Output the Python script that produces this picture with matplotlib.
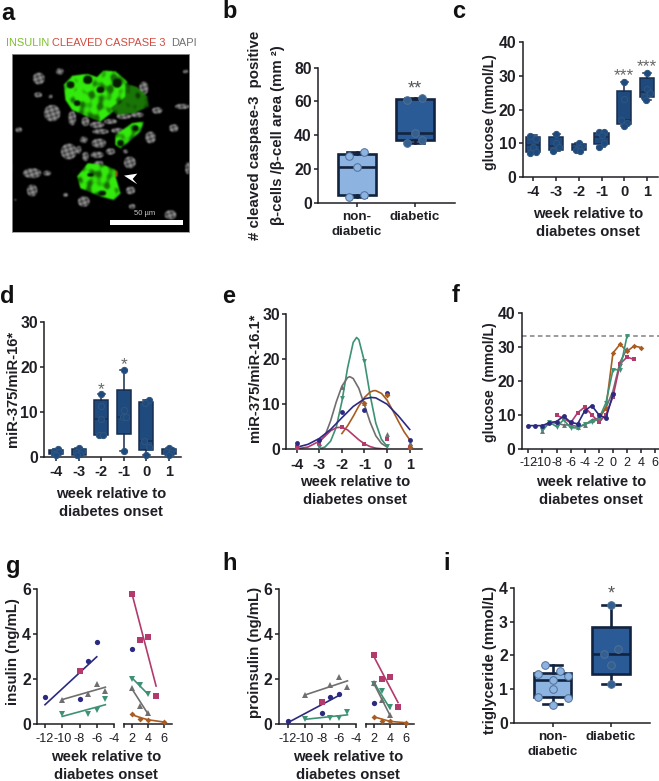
import matplotlib
matplotlib.use('Agg')
import matplotlib.pyplot as plt
from matplotlib.path import Path
from matplotlib.patches import Polygon, Rectangle
import numpy as np

plt.rcParams['font.family'] = ['Liberation Sans', 'DejaVu Sans']
plt.rcParams['font.weight'] = 'bold'

W, H = 659, 781

# colours
BLUE, PINK, GREEN, GRAY, BROWN = '#2b2a80', '#b23a6c', '#3d9274', '#6f6f6f', '#a85c22'
DARK = '#1e1e24'
LIGHT_FILL, LIGHT_PT = '#8db3e0', '#8db3e0'
MID_FILL, MID_PT = '#2b5b96', '#34608f'
DEEP_FILL, DEEP_EDGE = '#1f4a7e', '#182c4e'

weeks = [-4, -3, -2, -1, 0, 1]
status = ['non-\ndiabetic', 'diabetic']

# panel b
b_q1, b_med, b_q3 = [4.5, 37], [21, 41.5], [29, 61.5]
b_lo, b_hi = [3.5, 35.5], [30, 62]
b_pts = [[30, 28, 21, 4.5, 3.5], [62, 61, 41.5, 37, 35.5]]
b_jit = [[.2, -.2, 0, .2, -.2], [.2, -.2, 0, .2, -.2]]

# panel c
c_q1 = [7.5, 8, 7.9, 9.7, 15.8, 23.8]
c_med = [9.5, 9.3, 8.5, 11.8, 17, 25.2]
c_q3 = [12, 12, 9.7, 13, 25.5, 29.5]
c_lo = [7, 7.6, 7.7, 9, 15.2, 23]
c_hi = [12.5, 12.7, 10.2, 13.4, 28.3, 31]
c_pts = [[12.3, 11.3, 9, 7.5, 7], [12.7, 10, 9, 8, 7.6], [10.2, 9.3, 8.6, 8, 7.7],
         [13.4, 13.3, 12.5, 10, 9], [28.3, 23.2, 17, 16, 15.2], [31, 26, 25, 23.8, 23]]
c_jit = [[-.2, .2, 0, .2, -.2], [0, 0, .2, -.2, -.2], [0, .2, 0, -.2, .1],
         [-.2, .2, 0, .2, -.2], [0, 0, -.2, .2, 0], [0, 0, .2, -.2, -.1]]
c_stars = ['', '', '', '', '***', '***']

# panel d
d_q1 = [.6, .5, 4.9, 5.2, 1.5, .6]
d_med = [1, 1.1, 8.4, 8.9, 3.6, 1.2]
d_q3 = [1.5, 1.7, 12.6, 14.9, 12.2, 1.8]
d_lo = [.4, .4, 4.7, 1.3, .5, .5]
d_hi = [1.7, 2, 14, 19.4, 12.6, 2.1]
d_pts = [[1.7, 1.3, 1, .6, .4], [2, 1.3, 1.1, .6, .4], [14, 11.2, 8.4, 4.8, 4.8],
         [19.4, 10.4, 8.9, 8.9, 1.3], [12.6, 12, 3.6, 2.2, .5], [2.1, 1.5, 1.2, .8, .5]]
d_jit = [[.1, -.2, .2, -.2, 0], [0, .2, -.2, .1, -.1], [0, 0, 0, -.2, .15],
         [0, 0, -.1, .15, 0], [.15, -.1, -.15, .15, 0], [0, .2, -.2, .15, 0]]
d_stars = ['', '', '*', '*', '', '']

# panel e, markers
e_x = [-4, -3, -2, -1, 0, 1]
e_blue = [1.5, 2, 8.3, 8.8, 12.5, 2.1]
e_pink = [.5, 1.3, 4.9, 1.2, 2.2, .3]
e_gray = [.6, 1.5, 13.8, 10.2, 3.3, 1.4]
e_green = [.2, .6, 11.3, 19.5, .7, .4]
e_brown_x = [-1, 0, 1]
e_brown = [10.3, 12, .4]

# panel e, fitted curves
e_blue_cx = [-4, -3.5, -3, -2.5, -2, -1.5, -1, -.7, -.5, 0, .5, 1]
e_blue_cy = [.45, 1.1, 2.4, 4.4, 7, 9.5, 11.2, 11.5, 11.4, 10, 7.4, 4.4]
e_pink_cx = [-4, -3.5, -3, -2.75, -2.5, -2.25, -2, -1.75, -1.5, -1.25, -1, -.75, -.5, 0]
e_pink_cy = [.1, .5, 1.8, 2.9, 4.1, 4.8, 4.9, 4.3, 3.2, 2.1, 1.2, .6, .25, 0]
e_gray_cx = [-3, -2.75, -2.5, -2.25, -2, -1.75, -1.65, -1.5, -1.25, -1, -.75, -.5, -.25, 0]
e_gray_cy = [1.6, 3, 6.3, 10.5, 14, 15.9, 16.1, 15.7, 13.5, 9.8, 6, 3, 1.3, .5]
e_green_cx = [-3, -2.75, -2.5, -2.25, -2, -1.75, -1.5, -1.35, -1.25, -1, -.75, -.5, -.25, 0]
e_green_cy = [.1, .5, 1.8, 4.9, 10.6, 18, 23.7, 24.8, 24.3, 19.4, 12, 5.8, 2.2, .65]
e_brown_cx = [-2, -1.75, -1.5, -1.25, -1, -.75, -.6, -.5, -.25, 0, .25, .5, .75, 1]
e_brown_cy = [3.5, 5.2, 7.3, 9.6, 11.5, 12.7, 13, 13, 12.4, 10.9, 8.6, 6.2, 3.9, 2.1]

# panel f
f_blue_x = [-12, -11, -10, -9, -8, -7, -6, -5, -4, -3, -2, -1, 0]
f_blue_y = [6.8, 6.8, 6.8, 7.7, 8, 9.6, 7.8, 7.3, 11.2, 12.7, 10, 9, 16]
f_pink_x = [-8, -7, -6, -5, -4, -3, -2, -1, 0, 1, 2, 3]
f_pink_y = [9.8, 9, 7.6, 10.6, 12.3, 10, 7.8, 10, 15.3, 25, 27, 26.3]
f_green_x = [-10, -9, -8, -7, -6, -5, -4, -3, -2, -1, 0, 1, 2]
f_green_y = [5.5, 7.8, 6.5, 8.5, 6.2, 6.1, 7.3, 7.8, 8.8, 13.5, 23.3, 23.3, 33.3]
f_gray_x = [-10, -9, -8, -7, -6, -5, -4, -3, -2, -1, 0, 1, 2]
f_gray_y = [5.3, 7.8, 7.5, 7, 7, 6.5, 7, 8.5, 9, 12, 17, 25.5, 29.5]
f_brown_x = [-2, -1, 0, 1, 2, 3, 4]
f_brown_y = [9, 12, 28.2, 30.8, 28.7, 30.3, 29.8]
f_limit = 33.3

# panel g, before and after onset
g_blue_x, g_blue_y = [-12, -8, -7, -6], [1.2, 1.13, 2.82, 3.65]
g_pink_x, g_pink_y = [-8], [2.37]
g_gray_x, g_gray_y = [-10, -7, -6, -5], [1.07, 1.35, 1.78, 1.48]
g_green_x, g_green_y = [-10, -7, -6, -5], [.45, .47, .65, 1.13]
g_fit_before = {BLUE: ([-12, -6], [.87, 3.0]), GRAY: ([-10, -5], [1.1, 1.65]), GREEN: ([-10, -5], [.35, .87])}
g2_pink_x, g2_pink_y = [2, 3, 4, 5], [5.78, 3.73, 3.9, 1.28]
g2_blue_x, g2_blue_y = [2], [3.35]
g2_green_x, g2_green_y = [2, 3, 4], [2.03, 1.75, 1.35]
g2_gray_x, g2_gray_y = [2, 3, 4], [1.6, .8, .5]
g2_brown_x, g2_brown_y = [2, 3, 4, 6], [.45, .22, .2, .12]
g_fit_after = {PINK: ([2, 5], [5.75, 1.7]), GREEN: ([2, 4], [2.05, 1.33]), GRAY: ([2, 4], [1.55, .45]),
               BROWN: ([2, 3, 4, 6], [.42, .3, .2, .1])}

# panel h
h_blue_x, h_blue_y = [-12, -8, -7, -6], [.15, .5, 1.22, 1.35]
h_pink_x, h_pink_y = [-8], [.97]
h_gray_x, h_gray_y = [-10, -7, -6, -5], [1.32, 1.75, 2.1, 1.68]
h_green_x, h_green_y = [-10, -7, -6, -5], [.25, .27, .3, .55]
h_fit_before = {BLUE: ([-12, -6], [.07, 1.28]), GRAY: ([-10, -5], [1.3, 1.93]), GREEN: ([-10, -5], [.22, .42])}
h2_pink_x, h2_pink_y = [2, 3, 4, 5], [3.1, 2, 2.12, .77]
h2_blue_x, h2_blue_y = [2], [.93]
h2_green_x, h2_green_y = [2, 3, 4], [1.8, 1.5, .75]
h2_gray_x, h2_gray_y = [2, 3, 4], [1.85, 1.1, .4]
h2_brown_x, h2_brown_y = [2, 3, 4, 6], [.33, .15, .13, .07]
h_fit_after = {PINK: ([2, 5], [3.0, .97]), GREEN: ([2, 4], [1.85, .7]), GRAY: ([2, 4], [1.8, .4]),
               BROWN: ([2, 4, 6], [.33, .13, .07])}

# panel i
i_q1, i_med, i_q3 = [.78, 1.45], [1.28, 2.03], [1.48, 2.85]
i_lo, i_hi = [.55, 1.14], [1.72, 3.5]
i_pts = [[1.71, 1.54, 1.45, 1.4, 1.27, 1.0, .78, .74, .54], [3.5, 2.2, 2.03, 1.72, 1.14]]
i_jit = [[-.2, .2, -.4, .4, 0, 0, -.4, .4, 0], [0, .2, -.2, 0, 0]]

# panel a, microscope picture in 3x pixel coordinates of the crop
nuclei = [(115, 236, 18, 18), (178, 215, 12, 10), (113, 285, 12, 8), (155, 340, 25, 25), (55, 390, 10, 8),
          (205, 455, 24, 24), (150, 290, 6, 6), (215, 355, 12, 22), (255, 365, 12, 14), (290, 375, 22, 10),
          (330, 365, 20, 8), (370, 350, 22, 8), (410, 345, 20, 8), (300, 395, 25, 8), (350, 392, 18, 8),
          (295, 430, 22, 14), (250, 420, 12, 10), (255, 470, 10, 14), (290, 465, 20, 10), (330, 455, 14, 10),
          (295, 490, 14, 7), (388, 488, 18, 18), (375, 455, 8, 6), (95, 520, 28, 15), (140, 520, 12, 8),
          (95, 572, 16, 18), (250, 605, 18, 16), (195, 585, 8, 6), (390, 572, 14, 12), (562, 505, 8, 18),
          (450, 413, 16, 18), (520, 385, 14, 12), (470, 332, 16, 10), (430, 265, 14, 20), (545, 320, 22, 8),
          (510, 645, 18, 14), (45, 600, 4, 3), (235, 450, 8, 12), (555, 215, 8, 6), (395, 620, 10, 8)]
islet_top = [(190, 255), (215, 228), (260, 222), (290, 232), (310, 212), (345, 215), (380, 245), (385, 290),
             (345, 330), (300, 365), (260, 350), (215, 330), (195, 300)]
islet_side = [(375, 250), (410, 262), (440, 290), (445, 320), (400, 340), (350, 345), (330, 325), (375, 290)]
islet_mid = [(345, 405), (395, 370), (430, 365), (420, 395), (380, 430), (360, 445), (345, 435)]
islet_low = [(262, 490), (310, 495), (345, 510), (345, 530), (360, 580), (340, 600), (300, 590), (240, 565), (230, 530)]
holes = [(262, 240, 14, 13), (210, 255, 12, 11), (350, 250, 14, 14), (300, 270, 12, 10), (230, 310, 10, 9),
         (360, 430, 10, 10), (405, 385, 9, 9), (305, 580, 12, 8), (270, 525, 10, 6)]
red_spot = (348, 522, 4, 10)


def to_fig(left, right, top, bottom):
    return [left / W, 1 - bottom / H, (right - left) / W, (bottom - top) / H]


def panel(left, right, top, bottom, ymax, yticks, xref, ticks, labels, weight='bold', tick_fs=10.5, pad=3):
    # xref = (value, pixel, value, pixel) pins the x scale to the picture
    v0, p0, v1, p1 = xref
    ax = fig.add_axes(to_fig(left, right, top, bottom))
    unit = (p1 - p0) / (v1 - v0)
    ax.set_xlim(v0 - (p0 - left) / unit, v0 + (right - p0) / unit)
    ax.set_ylim(0, ymax)
    ax.set_yticks(yticks)
    ax.set_xticks(ticks)
    ax.set_xticklabels(labels, fontweight=weight, fontsize=tick_fs, color=DARK, linespacing=1.32)
    ax.tick_params(axis='y', length=3, width=1.1, pad=1.5, labelsize=11.3, colors=DARK)
    ax.tick_params(axis='x', length=3, width=1.1, pad=pad, colors=DARK)
    for s in ['top', 'right']:
        ax.spines[s].set_visible(False)
    for s in ['left', 'bottom']:
        ax.spines[s].set_linewidth(1.1)
        ax.spines[s].set_color(DARK)
    ax.patch.set_alpha(0)
    return ax


def ylab(ax, s, px, py, fs=10.6):
    ax.set_ylabel(s, fontsize=fs, fontweight='bold', va='center', color=DARK)
    ax.yaxis.set_label_coords(px / W, 1 - py / H, transform=fig.transFigure)


def week_label(px, py):
    fig.text(px / W, 1 - py / H, 'week relative to\ndiabetes onset', ha='center', va='center',
             fontsize=10.7, linespacing=1.32, color=DARK)


def boxes(ax, pos, q1, med, q3, lo, hi, pts, jit, fill, edge, ptcol, ptedge, width, lw=1.4, ms=5, cap=.5):
    stats = [dict(q1=a, med=m, q3=c, whislo=l, whishi=h, fliers=[]) for a, m, c, l, h in zip(q1, med, q3, lo, hi)]
    for i, st in enumerate(stats):
        ax.bxp([st], positions=[pos[i]], widths=width, patch_artist=True, showfliers=False,
               boxprops=dict(facecolor=fill[i], edgecolor=edge, linewidth=lw),
               medianprops=dict(color=edge, linewidth=lw), whiskerprops=dict(color=edge, linewidth=lw),
               capprops=dict(color=edge, linewidth=lw), capwidths=width * cap, manage_ticks=False, zorder=2)
        ax.plot(np.array(jit[i]) * width + pos[i], pts[i], 'o', ms=ms, mfc=ptcol[i], mec=ptedge, mew=.7,
                zorder=3, clip_on=False)


def scatter_lines(ax, series, fits, ms=3.8):
    for x, y, col, mk in series:
        ax.plot(x, y, mk, color=col, ms=ms - .8 if mk == 'D' else ms, mew=0, clip_on=False, zorder=3)
    for col, (x, y) in fits.items():
        ax.plot(x, y, color=col, lw=1.2, zorder=2)


def microscope():
    n = 534  # 3x crop from x=35 to 569, y=163 to 697
    yy, xx = np.mgrid[0:n, 0:n]
    xx = xx + 35
    yy = yy + 163
    grain = np.sin(xx / 3.7 + yy / 6.1) * np.cos(yy / 3.3 - xx / 8.3)
    gray = np.zeros((n, n))
    for x, y, rx, ry in nuclei:
        d = ((xx - x) / rx) ** 2 + ((yy - y) / ry) ** 2
        gray[d < 1] = .42 + .22 * grain[d < 1]
    green = np.zeros((n, n))
    pix = np.column_stack([xx.ravel(), yy.ravel()])
    wave = (np.sin(.13 * xx + .07 * yy) + np.sin(.05 * xx - .19 * yy + 1) +
            np.sin(.23 * xx + .03 * yy + 2) + np.sin(-.09 * xx + .11 * yy + 4) + np.sin(.031 * xx + .027 * yy))
    mottle = np.clip(1.0 + .2 * wave, .45, 1)
    for poly, level in [(islet_top, 1), (islet_mid, 1), (islet_low, 1), (islet_side, .5)]:
        mask = Path(poly).contains_points(pix).reshape(n, n)
        green[mask] = level * mottle[mask]
    for x, y, rx, ry in holes:
        d = ((xx - x) / rx) ** 2 + ((yy - y) / ry) ** 2
        green[d < 1] = .12
    rgb = np.zeros((n, n, 3))
    rgb[..., 0] = gray * (green < .05) + green * .2
    rgb[..., 1] = np.maximum(gray, green * .92)
    rgb[..., 2] = gray * (green < .05) + green * .05
    x, y, rx, ry = red_spot
    d = ((xx - x) / rx) ** 2 + ((yy - y) / ry) ** 2
    rgb[d < 1] = (.62, .32, .1)
    # soften, the source picture is blurry
    for _ in range(3):
        rgb = (rgb + np.roll(rgb, 2, 0) + np.roll(rgb, -2, 0) + np.roll(rgb, 2, 1) + np.roll(rgb, -2, 1)) / 5
    return np.clip(rgb, 0, 1)


fig = plt.figure(figsize=(W / 100, H / 100), dpi=100)

# a
ax_a = fig.add_axes(to_fig(12, 189.5, 54.3, 232.3))
ax_a.imshow(microscope(), extent=(35, 569, 697, 163), interpolation='bilinear', aspect='auto')
ax_a.add_patch(Rectangle((330, 660), 220, 15, fc='white', ec='none'))
ax_a.add_patch(Polygon([(372, 527), (412, 521), (398, 537), (412, 553)], fc='white', ec='none'))
ax_a.text(435, 642, '50 µm', color='#c8c8c8', fontsize=5.5, fontweight='normal', ha='center', va='center')
ax_a.set_xticks([])
ax_a.set_yticks([])
for s in ax_a.spines.values():
    s.set_color('#999999')
    s.set_linewidth(.6)
for s, x, c in [('INSULIN', 6, '#7fbf2a'), ('CLEAVED CASPASE 3', 52.5, '#d24a40'), ('DAPI', 171, '#707070')]:
    fig.text(x / W, 1 - 43.5 / H, s, color=c, fontsize=7.9, fontweight='normal', va='center')

# b
ax_b = panel(318, 455, 67.5, 203, 80, [0, 20, 40, 60, 80], (0, 356.7, 1, 414.7), [0, 1], status, tick_fs=9.6, pad=3)
boxes(ax_b, [0, 1], b_q1, b_med, b_q3, b_lo, b_hi, b_pts, b_jit, [LIGHT_FILL, MID_FILL], '#12233f',
      [LIGHT_PT, MID_PT], '#4f7099', .65, lw=1.9, ms=5.5)
ax_b.text(1, 67.3, '**', color='#555555', fontsize=13, fontweight='normal', ha='center', va='center')
ylab(ax_b, '# cleaved caspase-3  positive', 255, 135, fs=10.8)
fig.text(278 / W, 1 - 135 / H, 'β-cells /β-cell area (mm ²)', rotation=90, fontsize=10.8, color=DARK,
         ha='center', va='center')

# c
ax_c = panel(522.7, 658, 42.3, 177, 40, [0, 10, 20, 30, 40], (-4, 533.3, 1, 647), weeks, [str(w) for w in weeks])
boxes(ax_c, weeks, c_q1, c_med, c_q3, c_lo, c_hi, c_pts, c_jit, [DEEP_FILL] * 6, DEEP_EDGE, [DEEP_FILL] * 6,
      '#2f5680', .62, lw=1.1, ms=4.5)
for w, st, top in zip(weeks, c_stars, c_hi):
    if st:
        ax_c.text(w, top + 1.7, st, color='#666666', fontsize=12.5, fontweight='normal', ha='center', va='center')
ylab(ax_c, 'glucose (mmol/L)', 490, 112, fs=10.1)
week_label(588, 223)

# d
ax_d = panel(44, 181, 321.7, 457, 30, [0, 10, 20, 30], (-4, 56.3, 1, 169), weeks, [str(w) for w in weeks])
boxes(ax_d, weeks, d_q1, d_med, d_q3, d_lo, d_hi, d_pts, d_jit, [DEEP_FILL] * 6, DEEP_EDGE, [DEEP_FILL] * 6,
      '#2f5680', .62, lw=1.1, ms=4.5)
for w, st, top in zip(weeks, d_stars, d_hi):
    if st:
        ax_d.text(w, top + 1.0, st, color='#666666', fontsize=12.5, fontweight='normal', ha='center', va='center')
ylab(ax_d, 'miR-375/miR-16*', 13, 389)
week_label(111, 503)

# e
ax_e = panel(286, 421.7, 314, 449.3, 30, [0, 10, 20, 30], (-4, 296.7, 1, 409.7), weeks, [str(w) for w in weeks])
for y, col, mk in [(e_green, GREEN, 'v'), (e_gray, GRAY, '^'), (e_pink, PINK, 's'), (e_blue, BLUE, 'o')]:
    ax_e.plot(e_x, y, mk, color=col, ms=3.5, mew=0, zorder=3, clip_on=False)
ax_e.plot(e_brown_x, e_brown, 'D', color=BROWN, ms=3, mew=0, zorder=3)
ax_e.plot(e_green_cx, e_green_cy, color=GREEN, lw=1.2)
ax_e.plot(e_gray_cx, e_gray_cy, color=GRAY, lw=1.2)
ax_e.plot(e_brown_cx, e_brown_cy, color=BROWN, lw=1.2)
ax_e.plot(e_pink_cx, e_pink_cy, color=PINK, lw=1.2)
ax_e.plot(e_blue_cx, e_blue_cy, color=BLUE, lw=1.2)
ylab(ax_e, 'miR-375/miR-16.1*', 255, 378)
week_label(355, 491)

# f
f_ticks = [-12, -10, -8, -6, -4, -2, 0, 2, 4, 6]
ax_f = panel(521.7, 659, 313, 448.7, 40, [0, 10, 20, 30, 40], (-12, 528.3, 6, 655.3), f_ticks, [str(t) for t in f_ticks],
             weight='normal', tick_fs=9)
ax_f.axhline(f_limit, color='#808080', ls=(0, (3, 2.2)), lw=1.1)
for x, y, col, mk in [(f_gray_x, f_gray_y, GRAY, '^'), (f_brown_x, f_brown_y, BROWN, 'D'), (f_pink_x, f_pink_y, PINK, 's'),
                      (f_green_x, f_green_y, GREEN, 'v'), (f_blue_x, f_blue_y, BLUE, 'o')]:
    ax_f.plot(x, y, '-', marker=mk, color=col, lw=1.2, ms=2.8 if mk == 'D' else 3.5, mew=0)
ylab(ax_f, 'glucose  (mmol/L)', 490, 382, fs=10.1)
week_label(591, 491)

# g
left_ticks = [-12, -10, -8, -6, -4]
right_ticks = [2, 4, 6]
ax_g = panel(37.3, 114, 589.3, 724.3, 6, [0, 2, 4, 6], (-12, 45, -4, 114), left_ticks, [str(t) for t in left_ticks],
             weight='normal', tick_fs=9.1)
scatter_lines(ax_g, [(g_blue_x, g_blue_y, BLUE, 'o'), (g_pink_x, g_pink_y, PINK, 's'), (g_gray_x, g_gray_y, GRAY, '^'),
                     (g_green_x, g_green_y, GREEN, 'v')], g_fit_before)
ax_g2 = panel(124, 172.3, 589.3, 724.3, 6, [], (2, 132.3, 6, 164), right_ticks, [str(t) for t in right_ticks],
              weight='normal', tick_fs=9.1)
ax_g2.spines['left'].set_visible(False)
ax_g2.plot([ax_g2.get_xlim()[0]] * 2, [0, -.13], color=DARK, lw=1.1, clip_on=False)
scatter_lines(ax_g2, [(g2_pink_x, g2_pink_y, PINK, 's'), (g2_blue_x, g2_blue_y, BLUE, 'o'), (g2_green_x, g2_green_y, GREEN, 'v'),
                      (g2_gray_x, g2_gray_y, GRAY, '^'), (g2_brown_x, g2_brown_y, BROWN, 'D')], g_fit_after)
ylab(ax_g, 'insulin (ng/mL)', 13, 652, fs=10.8)
week_label(106, 766)

# h
ax_h = panel(278.7, 356, 589.3, 724.3, 6, [0, 2, 4, 6], (-12, 287.7, -4, 356), left_ticks, [str(t) for t in left_ticks],
             weight='normal', tick_fs=9.1)
scatter_lines(ax_h, [(h_blue_x, h_blue_y, BLUE, 'o'), (h_pink_x, h_pink_y, PINK, 's'), (h_gray_x, h_gray_y, GRAY, '^'),
                     (h_green_x, h_green_y, GREEN, 'v')], h_fit_before)
ax_h2 = panel(366, 414.3, 589.3, 724.3, 6, [], (2, 374, 6, 406), right_ticks, [str(t) for t in right_ticks],
              weight='normal', tick_fs=9.1)
ax_h2.spines['left'].set_visible(False)
ax_h2.plot([ax_h2.get_xlim()[0]] * 2, [0, -.13], color=DARK, lw=1.1, clip_on=False)
scatter_lines(ax_h2, [(h2_pink_x, h2_pink_y, PINK, 's'), (h2_blue_x, h2_blue_y, BLUE, 'o'), (h2_green_x, h2_green_y, GREEN, 'v'),
                      (h2_gray_x, h2_gray_y, GRAY, '^'), (h2_brown_x, h2_brown_y, BROWN, 'D')], h_fit_after)
ylab(ax_h, 'proinsulin (ng/mL)', 255, 652, fs=10.8)
week_label(348, 766)

# i
ax_i = panel(514, 650, 587.7, 723, 4, [0, 1, 2, 3, 4], (0, 552.7, 1, 611), [0, 1], status, tick_fs=9.6, pad=3)
boxes(ax_i, [0, 1], i_q1, i_med, i_q3, i_lo, i_hi, i_pts, i_jit, [LIGHT_FILL, MID_FILL], '#12233f',
      [LIGHT_PT, MID_PT], '#4f7099', .64, lw=1.9, ms=5.5)
ax_i.text(1, 3.8, '*', color='#555555', fontsize=13, fontweight='normal', ha='center', va='center')
ylab(ax_i, 'triglyceride (mmol/L)', 490, 660, fs=10.8)

# panel letters
for s, x, y in [('a', 7.5, 13), ('b', 230, 12), ('c', 459, 12), ('d', 7.5, 297), ('e', 229, 297), ('f', 456, 296),
                ('g', 13, 567), ('h', 230, 563), ('i', 447, 564)]:
    fig.text(x / W, 1 - y / H, s, fontsize=17, ha='center', va='center', color='#111111')

fig.savefig('out.png', dpi=100)
